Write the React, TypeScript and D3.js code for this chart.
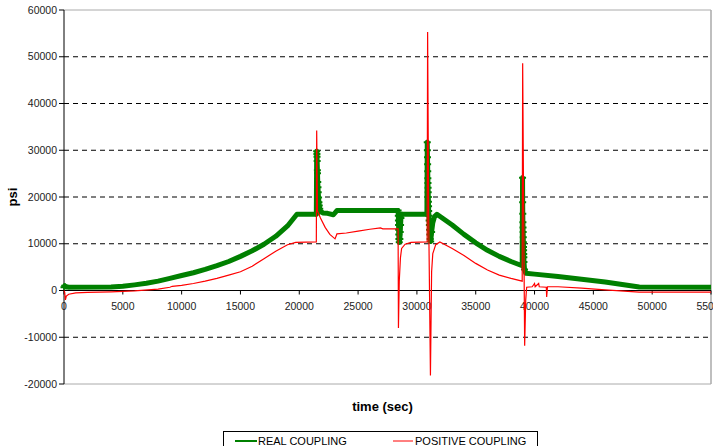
import React from 'react';
import * as d3 from 'd3';

const W = 713;
const H = 446;

// y ticks / x ticks as shown on the chart
const yTicks = [-20000, -10000, 0, 10000, 20000, 30000, 40000, 50000, 60000];
const xTicks = [0, 5000, 10000, 15000, 20000, 25000, 30000, 35000, 40000, 45000, 50000, 55000];

const realTime = [
  0, 60, 150, 400, 4000, 5000, 6000, 7000, 8000, 9000, 10000, 11000, 12000, 13000, 14000,
  15000, 16000, 17000, 18000, 19000, 19800, 21450, 21480, 21500, 21510, 21520, 21540, 21550,
  21570, 21590, 21610, 21640, 21670, 21700, 21740, 21800, 22000, 22400, 22900, 23200, 28400,
  28420, 28430, 28440, 28450, 28460, 28470, 28500, 28550, 28580, 28610, 28640, 28700, 30850,
  30880, 30890, 30900, 30910, 30920, 30930, 30940, 30950, 30960, 30970, 30980, 30990, 31000,
  31020, 31040, 31060, 31080, 31100, 31130, 31170, 31250, 31350, 31500, 31700, 33000, 34000,
  35000, 36000, 37000, 38000, 38950, 38980, 38990, 39000, 39010, 39020, 39030, 39040, 39050,
  39060, 39070, 39080, 39090, 39100, 39150, 39250, 40000, 42000, 44000, 46000, 48900, 55000,
];
const realPsi = [
  700, 1000, 800, 700, 750, 900, 1200, 1550, 2000, 2600, 3200, 3800, 4500, 5300, 6200,
  7300, 8500, 9900, 11600, 13800, 16300, 16300, 29800, 29200, 28600, 27700, 25700, 25100,
  23200, 22100, 21000, 19900, 18900, 18200, 17500, 16900, 16600, 16500, 16200, 17100, 17100,
  16000, 15000, 14000, 13000, 12000, 11000, 10300, 11000, 12500, 14000, 15500, 16300, 16300,
  31700, 30000, 28500, 27000, 25500, 24000, 23000, 22000, 21000, 20000, 19000, 18000, 17000,
  16000, 15000, 14000, 13000, 12000, 11000, 10500, 12500, 14500, 15800, 16300, 14000, 12000,
  10200, 8600, 7300, 6200, 5300, 24100, 18900, 16400, 14600, 13500, 12500, 11400, 10300,
  9300, 8600, 7800, 7100, 6100, 4500, 3700, 3500, 3000, 2400, 1800, 750, 700,
];

// POSITIVE COUPLING (red)
const posTime = [
  0, 60, 120, 200, 400, 1000, 2000, 4000, 6000, 8000, 9000, 9200, 10000, 11000, 12000, 13000,
  14000, 15000, 16000, 17000, 18000, 19000, 19700, 21450, 21480, 21550, 21800, 22200, 22600,
  23040, 23200, 24000, 25000, 26000, 26900, 27100, 28400, 28430, 28500, 28600, 28700, 29000,
  29500, 30870, 30910, 31000, 31150, 31250, 31350, 31600, 31950, 33000, 34000, 35000, 36000,
  37000, 38000, 38950, 38990, 39100, 39160, 39250, 39330, 39800, 40000, 40050, 40350, 40400,
  41000, 41030, 41100, 42000, 44000, 46000, 48900, 55000,
];
const posPsi = [
  0, -400, -2000, -1200, -800, -500, -400, -300, -100, 300, 700, 900, 1100, 1500, 2000, 2600,
  3300, 4000, 5200, 6800, 8400, 9800, 10300, 10400, 34200, 17000, 15500, 13500, 12000,
  11050, 12100, 12300, 12700, 13100, 13400, 13200, 13200, -8000, 2000, 7000, 9000, 9900,
  10300, 10400, 55300, 16000, -18200, 4000, 7900, 9800, 10400, 9000, 7500, 5800, 4400,
  3300, 2600, 2000, 48600, 8000, -11800, -2000, 700, 800, 1500, 800, 1500, 800,
  700, -1400, 800, 800, 500, 150, -350, -350,
];

const GREEN = '#008000';
const RED = '#FF0000';

export default function App() {
  const left = 64;
  const right = 711;
  const top = 10;
  const bottom = 384;

  const x = d3.scaleLinear().domain([0, 55000]).range([left, right]);
  const y = d3.scaleLinear().domain([-20000, 60000]).range([bottom, top]);

  const realPts: [number, number][] = realTime.map((t, i) => [t, realPsi[i]]);
  const posPts: [number, number][] = posTime.map((t, i) => [t, posPsi[i]]);

  const line = d3
    .line<[number, number]>()
    .x(d => x(d[0]))
    .y(d => y(d[1]));

  // markers show up where the series runs almost vertical (spikes)
  const markerPts = realPts.filter((d, i) => {
    const prev = realPts[i - 1];
    const next = realPts[i + 1];
    return (prev && d[0] - prev[0] < 100) || (next && next[0] - d[0] < 100);
  });

  const font = 'Liberation Sans, Arial, sans-serif';

  return (
    <svg
      width={W}
      height={H}
      style={{ position: 'absolute', left: 0, top: 0, background: '#fff' }}
      fontFamily={font}
    >
      {/* grid */}
      {yTicks
        .filter(v => v !== 0 && v !== -20000 && v !== 60000)
        .map(v => (
          <line
            key={'g' + v}
            x1={left}
            x2={right}
            y1={y(v)}
            y2={y(v)}
            stroke="#000"
            strokeWidth={1}
            strokeDasharray="5,4"
          />
        ))}
      {/* plot frame (top / right / bottom) */}
      <line x1={left} x2={right} y1={y(60000)} y2={y(60000)} stroke="#aaa" />
      <line x1={left} x2={right} y1={y(-20000)} y2={y(-20000)} stroke="#aaa" />
      <line x1={right} x2={right} y1={top} y2={bottom} stroke="#aaa" strokeWidth={1.5} />

      {/* y axis */}
      <line x1={left} x2={left} y1={top} y2={bottom} stroke="#000" />
      {yTicks.map(v => (
        <g key={'y' + v}>
          <line x1={left - 5} x2={left} y1={y(v)} y2={y(v)} stroke="#000" />
          <text
            x={left - 7}
            y={y(v)}
            dy="0.35em"
            textAnchor="end"
            fontSize={10.5}
            fill="#222"
          >
            {v}
          </text>
        </g>
      ))}

      {/* x axis at zero */}
      <line x1={left} x2={right} y1={y(0)} y2={y(0)} stroke="#000" />
      {xTicks.map(v => (
        <g key={'x' + v}>
          <line x1={x(v)} x2={x(v)} y1={y(0)} y2={y(0) + 4} stroke="#000" />
          <text x={x(v)} y={y(0) + 19} textAnchor="middle" fontSize={10.5} fill="#222">
            {v}
          </text>
        </g>
      ))}

      {/* series */}
      <path
        d={line(realPts) || ''}
        fill="none"
        stroke={GREEN}
        strokeWidth={5}
        strokeLinejoin="round"
      />
      {markerPts.map((d, i) => (
        <path
          key={'m' + i}
          transform={`translate(${x(d[0])},${y(d[1])})`}
          d="M-3.5,0H3.5M0,-2.5V2.5"
          stroke={GREEN}
          strokeWidth={2}
        />
      ))}
      <path d={line(posPts) || ''} fill="none" stroke={RED} strokeWidth={1.2} />

      {/* axis titles */}
      <text
        transform={`translate(17,${(top + bottom) / 2}) rotate(-90)`}
        textAnchor="middle"
        fontSize={13}
        fontWeight="bold"
      >
        psi
      </text>
      <text x={(left + right) / 2 - 5} y={411} textAnchor="middle" fontSize={13} fontWeight="bold">
        time (sec)
      </text>

      {/* legend */}
      <rect x={223.5} y={431.5} width={314} height={20} fill="#fff" stroke="#000" />
      <line x1={235} x2={257} y1={441} y2={441} stroke={GREEN} strokeWidth={2} />
      <text x={258} y={445} fontSize={11}>
        REAL COUPLING
      </text>
      <line x1={393} x2={413} y1={441} y2={441} stroke={RED} strokeWidth={1} />
      <text x={415} y={445} fontSize={11}>
        POSITIVE COUPLING
      </text>
    </svg>
  );
}
